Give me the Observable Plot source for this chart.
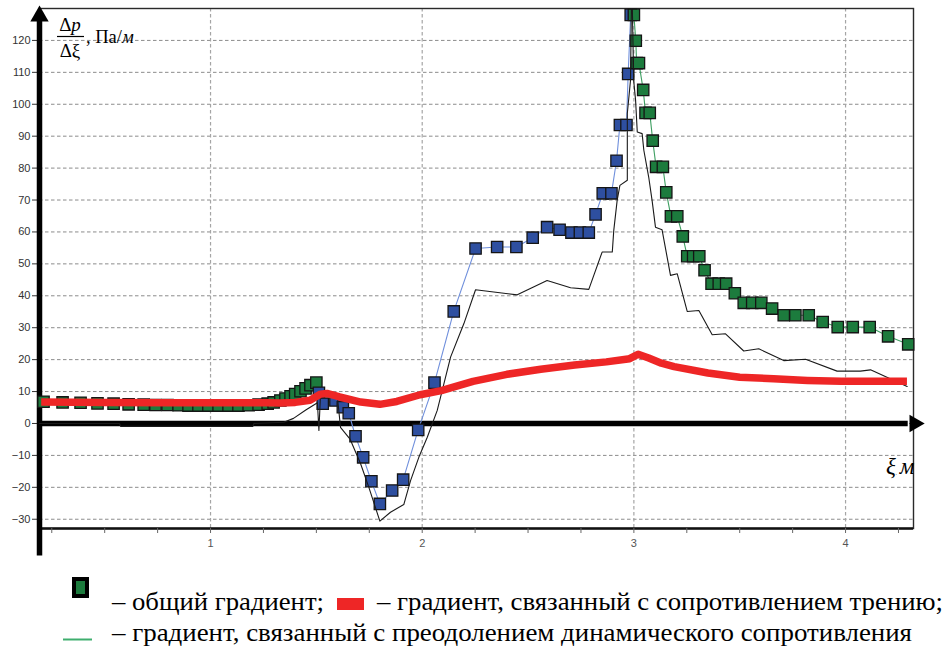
<!DOCTYPE html>
<html>
<head>
<meta charset="utf-8">
<script src="https://cdn.jsdelivr.net/npm/d3@7"></script>
<script src="https://cdn.jsdelivr.net/npm/@observablehq/plot@0.6"></script>
<style>
  html, body { margin: 0; padding: 0; background: #fff; }
  #wrap { position: relative; width: 945px; height: 649px; overflow: hidden; }
  #wrap svg { display: block; }
  .serif { font-family: "Liberation Serif", "Times New Roman", "DejaVu Serif", serif; }
</style>
</head>
<body>
<div id="wrap"></div>
<script>
// ---- data ----
// total gradient, first part (green squares)
const greenX1 = [0.211,0.301,0.386,0.466,0.542,0.613,0.684,0.740,0.797,0.849,0.896,0.943,0.990,1.038,1.085,1.132,1.180,1.227,1.270,1.298,1.330,1.354,1.378,1.400,1.425,1.449,1.472,1.500];
const greenY1 = [6.8,6.6,6.5,6.3,6.2,6.0,5.9,5.8,5.8,5.7,5.6,5.6,5.6,5.6,5.6,5.6,5.7,5.9,6.2,6.6,7.2,7.8,8.5,9.2,10.1,11.0,12.0,12.8];
// middle part (blue squares)
const blueX = [1.512,1.530,1.590,1.625,1.653,1.685,1.721,1.760,1.800,1.858,1.910,1.981,2.058,2.149,2.252,2.354,2.445,2.522,2.590,2.649,2.705,2.745,2.787,2.819,2.853,2.894,2.918,2.934,2.965,2.973,2.985];
const blueY = [9.6,6.2,7.2,5.1,3.2,-4.0,-10.6,-18.1,-25.2,-21.0,-17.6,-2.0,12.8,35.1,54.8,55.3,55.3,58.2,61.5,60.7,59.8,59.8,59.8,65.5,72.1,72.1,82.3,93.5,93.5,109.5,128.0];
// total gradient, last part (green squares)
const greenX2 = [3.000,3.009,3.013,3.024,3.044,3.055,3.075,3.089,3.105,3.137,3.153,3.175,3.205,3.231,3.252,3.280,3.309,3.334,3.367,3.401,3.436,3.477,3.519,3.559,3.602,3.653,3.708,3.763,3.826,3.892,3.963,4.034,4.114,4.201,4.296];
const greenY2 = [128.0,119.9,112.9,112.9,104.5,97.3,97.3,88.6,80.4,80.4,72.4,64.9,64.9,58.6,52.4,52.4,52.4,48.0,43.8,43.8,43.8,40.8,37.8,37.8,37.8,36.0,33.9,33.9,33.9,31.8,30.2,30.2,30.2,27.3,24.8];
// dynamic-resistance gradient (thin black line)
const blackX = [0.192,0.570,0.575,1.200,1.205,1.346,1.392,1.450,1.505,1.512,1.520,1.550,1.598,1.614,1.660,1.709,1.748,1.800,1.850,1.913,1.945,1.984,2.024,2.071,2.134,2.197,2.252,2.338,2.449,2.590,2.701,2.787,2.850,2.898,2.905,2.921,2.934,2.969,2.969,2.984,2.990,2.999,3.008,3.016,3.039,3.047,3.070,3.086,3.102,3.133,3.173,3.205,3.252,3.307,3.370,3.433,3.519,3.590,3.708,3.811,3.960,4.070,4.118,4.291];
const blackY = [0,0,-0.9,-0.9,0,0.4,1.6,4.2,6.5,-2.2,9.8,10.1,9.3,-1.2,-5.0,-12.6,-20.0,-30.6,-27.8,-25.4,-17.9,-10.6,-4.3,4.1,20.8,31.3,41.9,41.2,40.3,44.8,42.5,42.0,53.7,53.7,60.5,69.9,74.6,76.2,97.1,107.5,140,107.5,101.3,91.3,90.8,85.6,77.2,69.9,61.5,60.7,46.4,46.9,35.1,35.4,27.8,28.1,22.7,23.4,19.7,20.1,16.4,16.4,16.8,11.6];
// friction gradient (thick red line)
const redX = [0.200,0.500,0.800,1.000,1.270,1.330,1.400,1.470,1.520,1.550,1.610,1.710,1.800,1.880,1.990,2.090,2.240,2.400,2.560,2.720,2.870,2.980,3.020,3.070,3.130,3.190,3.350,3.500,3.660,3.820,3.980,4.290];
const redY = [6.7,6.6,6.5,6.5,6.5,6.4,6.6,7.3,9.2,9.4,8.3,6.7,6.0,6.9,9.0,10.3,13.2,15.4,17.0,18.3,19.3,20.3,21.7,20.5,18.9,17.8,15.8,14.5,14.0,13.5,13.2,13.2];
// axes
const yTicks = [-30,-20,-10,0,10,20,30,40,50,60,70,80,90,100,110,120];
const xMinorTicks = [0.25,0.5,0.75,1,1.25,1.5,1.75,2,2.25,2.5,2.75,3,3.25,3.5,3.75,4,4.25];
const xGridTicks = [1,2,3,4];
const xDomain = [0.192, 4.321];
const yDomain = [-32.9, 130];

const legendTexts = [
  "– общий градиент;",
  "– градиент, связанный с сопротивлением трению;",
  "– градиент, связанный с преодолением динамического сопротивления"
];

const zip = (xs, ys) => xs.map((x, i) => ({x, y: ys[i]}));
const green1 = zip(greenX1, greenY1);
const blue = zip(blueX, blueY);
const green2 = zip(greenX2, greenY2);
const black = zip(blackX, blackY);
const red = zip(redX, redY);

const GREEN = "#1c7b3d", BLUE = "#2e4fa0";
const sq = {x: "x", y: "y", symbol: "square", r: 6.4, stroke: "#151515", strokeWidth: 1.3};
const SERIF = "'Liberation Serif', 'Times New Roman', 'DejaVu Serif', serif";

const plot = Plot.plot({
  width: 945, height: 560,
  marginLeft: 39, marginRight: 32, marginTop: 8, marginBottom: 32,
  x: {domain: xDomain},
  y: {domain: yDomain},
  style: {fontFamily: "'Liberation Sans', Arial, sans-serif", fontSize: "11px", background: "#fff", overflow: "visible"},
  marks: [
    Plot.gridY(yTicks, {stroke: "#8c8c8c", strokeOpacity: 1, strokeDasharray: "3.5,2.5", strokeWidth: 1}),
    Plot.gridX(xGridTicks, {stroke: "#a5a5a5", strokeOpacity: 1, strokeDasharray: "3.5,2.5", strokeWidth: 1.2}),
    Plot.frame({stroke: "#2a2a2a", strokeWidth: 1.4}),
    Plot.ruleY([yDomain[0]], {stroke: "#111", strokeWidth: 2.4}),
    Plot.axisY(yTicks, {tickSize: 7, tickPadding: 2, stroke: "#333", fill: "#333", label: null}),
    Plot.axisX(xMinorTicks, {tickSize: 5, tickPadding: 6, stroke: "#666", fill: "#555",
      tickFormat: d => Number.isInteger(d) ? String(d) : "", label: null}),
    // thick arrowed axes
    Plot.ruleY([0], {x1: xDomain[0], x2: 4.296, stroke: "#000", strokeWidth: 5.5}),
    Plot.dot([{x: 4.326, y: 0}], {x: "x", y: "y", symbol: "triangle", rotate: 90, r: 6.5, fill: "#000"}),
    Plot.ruleX([xDomain[0]], {y1: -41.5, y2: 126.5, stroke: "#000", strokeWidth: 5.5}),
    Plot.dot([{x: xDomain[0], y: 127.6}], {x: "x", y: "y", symbol: "triangle", r: 6.8, fill: "#000"}),
    // series
    Plot.line(green1, {x: "x", y: "y", stroke: "#3f9f62", strokeWidth: 1}),
    Plot.dot(green1, {...sq, fill: GREEN}),
    Plot.line(blue, {x: "x", y: "y", stroke: "#6f8fdc", strokeWidth: 1.1}),
    Plot.dot(blue, {...sq, fill: BLUE}),
    Plot.line(green2, {x: "x", y: "y", stroke: "#3f9f62", strokeWidth: 1.1}),
    Plot.dot(green2, {...sq, fill: GREEN}),
    Plot.line(black, {x: "x", y: "y", stroke: "#1a1a1a", strokeWidth: 1.1, clip: true}),
    Plot.line(red, {x: "x", y: "y", stroke: "#ee2626", strokeWidth: 7.5, strokeLinejoin: "round", strokeLinecap: "butt"})
  ]
});

const wrap = document.getElementById("wrap");
wrap.appendChild(plot);

// axis captions inside the plot svg
const s = d3.select(plot);
const cap = s.append("g").attr("class", "serif").attr("fill", "#000").attr("text-anchor", "start")
  .style("font-family", SERIF);
const num = cap.append("text").attr("x", 70).attr("y", 31).attr("text-anchor", "middle").attr("font-size", 19);
num.append("tspan").text("Δ");
num.append("tspan").attr("font-style", "italic").text("p");
cap.append("line").attr("x1", 57).attr("x2", 84).attr("y1", 36.5).attr("y2", 36.5).attr("stroke", "#000").attr("stroke-width", 1.2);
cap.append("text").attr("x", 70).attr("y", 57).attr("text-anchor", "middle").attr("font-size", 19).text("Δξ");
const unit = cap.append("text").attr("x", 86).attr("y", 42.5).attr("text-anchor", "start").attr("font-size", 18.5);
unit.append("tspan").text(", Па/");
unit.append("tspan").attr("font-style", "italic").text("м");
const xl = cap.append("text").attr("x", 886).attr("y", 474).attr("text-anchor", "start").attr("font-size", 23).attr("font-style", "italic");
xl.append("tspan").text("ξ");
xl.append("tspan").attr("font-size", 4).text(",");
xl.append("tspan").attr("dx", 3).text("м");

// legend below the chart
const leg = d3.select(wrap).append("svg").attr("width", 945).attr("height", 89).attr("class", "serif")
  .style("font-family", SERIF);
leg.append("rect").attr("x", 74).attr("y", 19).attr("width", 13).attr("height", 17)
  .attr("fill", GREEN).attr("stroke", "#000").attr("stroke-width", 4);
leg.append("text").attr("x", 112).attr("y", 50).attr("font-size", 25)
  .attr("textLength", 212).attr("lengthAdjust", "spacingAndGlyphs").text(legendTexts[0]);
leg.append("rect").attr("x", 337).attr("y", 38).attr("width", 27).attr("height", 12).attr("fill", "#ee2626");
leg.append("text").attr("x", 377).attr("y", 50).attr("font-size", 25)
  .attr("textLength", 566).attr("lengthAdjust", "spacingAndGlyphs").text(legendTexts[1]);
leg.append("line").attr("x1", 63).attr("x2", 92).attr("y1", 79.5).attr("y2", 79.5)
  .attr("stroke", "#3fae6e").attr("stroke-width", 2);
leg.append("text").attr("x", 112).attr("y", 81).attr("font-size", 25)
  .attr("textLength", 800).attr("lengthAdjust", "spacingAndGlyphs").text(legendTexts[2]);
</script>
</body>
</html>
